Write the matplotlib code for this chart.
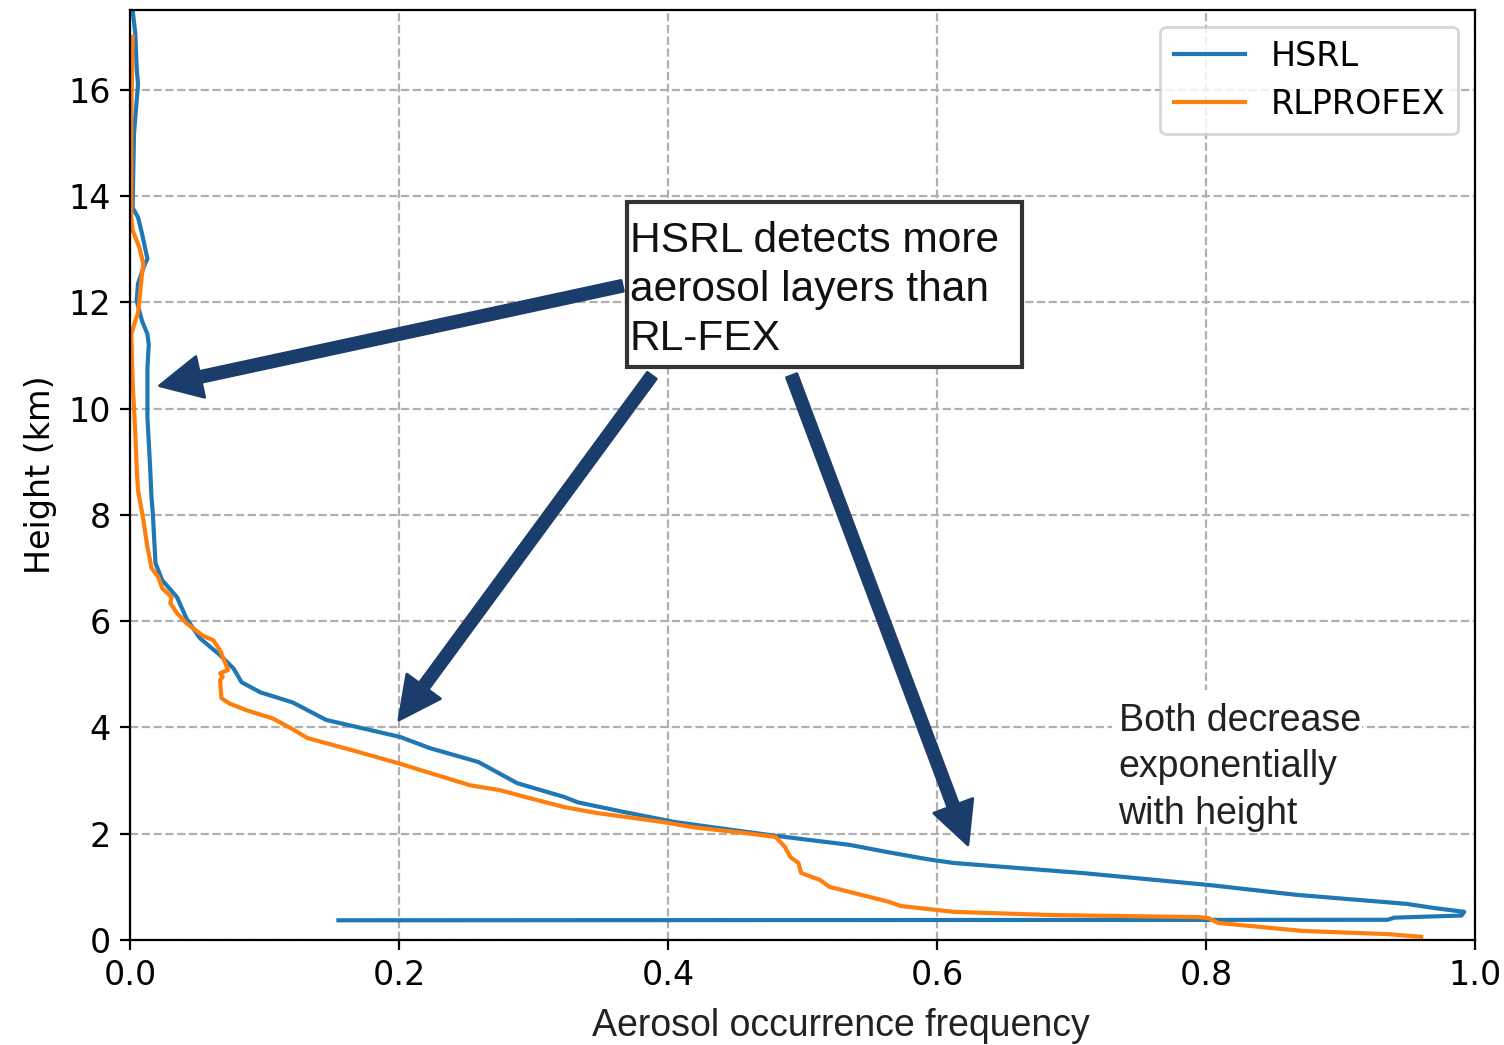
import matplotlib
matplotlib.use("Agg")
import matplotlib.pyplot as plt
from matplotlib.patches import Rectangle

# HSRL profile (frequency, height km)
hsrl_freq = [0.155, 0.935, 0.94, 0.99, 0.992, 0.97, 0.949, 0.867, 0.804, 0.708, 0.612, 0.593,
             0.564, 0.535, 0.477, 0.405, 0.367, 0.333, 0.323, 0.288, 0.259, 0.223, 0.201,
             0.146, 0.121, 0.097, 0.083, 0.077, 0.067, 0.052, 0.042, 0.035, 0.024, 0.019,
             0.017, 0.016, 0.015, 0.013, 0.013, 0.014, 0.013, 0.009, 0.005, 0.006, 0.010,
             0.013, 0.009, 0.006, 0.002, 0.003, 0.005, 0.006, 0.005, 0.004, 0.002]
hsrl_height = [0.37, 0.38, 0.42, 0.46, 0.53, 0.6, 0.68, 0.85, 1.03, 1.26, 1.45, 1.52,
               1.65, 1.79, 1.97, 2.22, 2.41, 2.59, 2.69, 2.95, 3.35, 3.61, 3.82,
               4.14, 4.47, 4.66, 4.85, 5.11, 5.36, 5.68, 6.05, 6.45, 6.77, 7.09,
               8.03, 8.33, 8.9, 9.83, 10.77, 11.2, 11.4, 11.65, 12.03, 12.35, 12.65,
               12.82, 13.29, 13.6, 13.78, 15.17, 15.79, 16.1, 16.4, 17.05, 17.5]

# RLPROFEX profile
rl_freq = [0.96, 0.935, 0.872, 0.809, 0.802, 0.795, 0.684, 0.612, 0.573, 0.564, 0.520,
           0.513, 0.499, 0.497, 0.491, 0.487, 0.480, 0.458, 0.419, 0.396, 0.347, 0.323,
           0.294, 0.275, 0.253, 0.199, 0.171, 0.132, 0.120, 0.106, 0.087, 0.074, 0.068,
           0.067, 0.069, 0.067, 0.073, 0.067, 0.062, 0.054, 0.042, 0.035, 0.030, 0.031,
           0.024, 0.021, 0.016, 0.015, 0.013, 0.010, 0.006, 0.005, 0.004, 0.002, 0.001,
           0.004, 0.006, 0.007, 0.009, 0.010, 0.007, 0.002, 0.001, 0.001, 0.002]
rl_height = [0.06, 0.11, 0.17, 0.32, 0.41, 0.43, 0.47, 0.53, 0.64, 0.72, 1.0,
             1.13, 1.26, 1.45, 1.56, 1.75, 1.94, 2.01, 2.12, 2.22, 2.39, 2.50,
             2.69, 2.82, 2.91, 3.33, 3.53, 3.80, 3.98, 4.17, 4.32, 4.45, 4.55,
             4.89, 4.95, 5.02, 5.08, 5.45, 5.64, 5.73, 5.96, 6.15, 6.34, 6.45,
             6.62, 6.83, 7.0, 7.14, 7.39, 7.9, 8.46, 8.9, 9.53, 10.5, 11.4,
             11.65, 11.8, 12.03, 12.54, 12.72, 13.03, 13.35, 13.6, 15.5, 17.0]

x_ticks = [0.0, 0.2, 0.4, 0.6, 0.8, 1.0]
y_ticks = [0, 2, 4, 6, 8, 10, 12, 14, 16]

box_text = "HSRL detects more\naerosol layers than\nRL-FEX"
side_text = "Both decrease\nexponentially\nwith height"
NAVY = "#1b3d6b"

fig = plt.figure(figsize=(7.52, 5.225), dpi=200)
ax = fig.add_axes([0.0864, 0.1005, 0.8943, 0.8899])

ax.plot(hsrl_freq, hsrl_height, color="#1f77b4", lw=1.5, label="HSRL")
ax.plot(rl_freq, rl_height, color="#ff7f0e", lw=1.5, label="RLPROFEX")

ax.set_xlim(0, 1)
ax.set_ylim(0, 17.5)
ax.set_xticks(x_ticks)
ax.set_yticks(y_ticks)
ax.tick_params(labelsize=12)
ax.grid(True, ls="--", color="#b0b0b0", lw=0.8)
ax.set_ylabel("Height (km)", fontsize=12)
ax.set_xlabel("Aerosol occurrence frequency", fontsize=13.5, family="Liberation Sans",
              color="#222222")
ax.xaxis.set_label_coords(0.5286, -0.073)
ax.legend(loc="upper right", fontsize=12, borderpad=0.4, labelspacing=0.45,
          handlelength=2.15, handletextpad=0.75)

# arrows from the text box
arrow = dict(arrowstyle="simple,head_length=0.75,head_width=0.75,tail_width=0.2",
             mutation_scale=20, color=NAVY, shrinkA=0, shrinkB=0)
for start, tip in [((0.366, 12.31), (0.022, 10.43)),
                   ((0.388, 10.62), (0.200, 4.14)),
                   ((0.492, 10.62), (0.623, 1.79))]:
    ax.annotate("", xy=tip, xytext=start, arrowprops=arrow)

ax.add_patch(Rectangle((0.3695, 0.6161), 0.2937, 0.1774, transform=ax.transAxes,
                       fc="white", ec="#333333", lw=1.5, zorder=4))
ax.text(0.3717, 0.6989, box_text, transform=ax.transAxes, ha="left", va="center",
        fontsize=15.3, family="Liberation Sans", color="#111111", linespacing=1.28,
        zorder=5)

# white patch behind the side note (hides grid only around the words)
ax.add_patch(Rectangle((0.7301, 0.1215), 0.186, 0.147, transform=ax.transAxes,
                       fc="white", ec="none", zorder=4))
ax.text(0.735, 0.255, side_text, transform=ax.transAxes, ha="left", va="top",
        fontsize=13.5, family="Liberation Sans", color="#222222", linespacing=1.37,
        zorder=5)

fig.savefig("out.png", dpi=200)
